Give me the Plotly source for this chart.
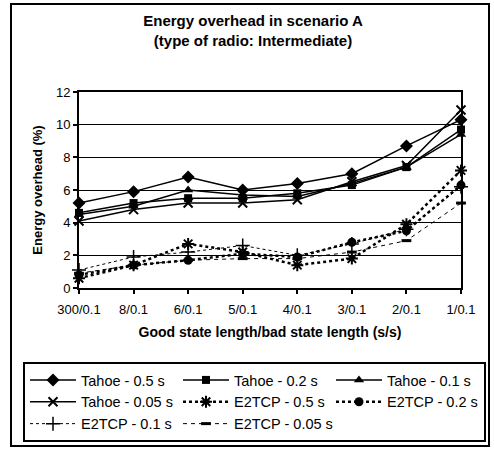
import plotly.graph_objects as go

categories = ["300/0.1", "8/0.1", "6/0.1", "5/0.1", "4/0.1", "3/0.1", "2/0.1", "1/0.1"]

tahoe_05 = [5.2, 5.9, 6.8, 6.0, 6.4, 7.0, 8.7, 10.3]
tahoe_02 = [4.6, 5.2, 5.5, 5.5, 5.8, 6.3, 7.4, 9.7]
tahoe_01 = [4.5, 5.0, 6.0, 5.7, 5.6, 6.4, 7.4, 9.4]
tahoe_005 = [4.1, 4.8, 5.2, 5.2, 5.4, 6.5, 7.5, 10.9]
e2tcp_05 = [0.6, 1.4, 2.7, 2.2, 1.4, 1.8, 3.9, 7.2]
e2tcp_02 = [0.8, 1.4, 1.7, 2.1, 1.9, 2.8, 3.5, 6.3]
e2tcp_01 = [1.1, 1.9, 2.2, 2.6, 2.0, 2.7, 3.6, 6.2]
e2tcp_005 = [0.9, 1.4, 1.7, 1.8, 1.8, 2.2, 2.9, 5.2]

series = [
    ("Tahoe - 0.5 s", tahoe_05, dict(dash="solid", width=1.5), dict(symbol="diamond", size=10)),
    ("Tahoe - 0.2 s", tahoe_02, dict(dash="solid", width=1.5), dict(symbol="square", size=8)),
    ("Tahoe - 0.1 s", tahoe_01, dict(dash="solid", width=1.5), dict(symbol="triangle-up", size=9)),
    ("Tahoe - 0.05 s", tahoe_005, dict(dash="solid", width=1.5), dict(symbol="x-thin-open", size=9, line=dict(width=2, color="black"))),
    ("E2TCP - 0.5 s", e2tcp_05, dict(dash="3px,3px", width=2.5), dict(symbol="asterisk-open", size=10, line=dict(width=2, color="black"))),
    ("E2TCP - 0.2 s", e2tcp_02, dict(dash="3px,3px", width=2.5), dict(symbol="circle", size=9)),
    ("E2TCP - 0.1 s", e2tcp_01, dict(dash="3px,3px", width=1), dict(symbol="cross-thin-open", size=10, line=dict(width=1.5, color="black"))),
    ("E2TCP - 0.05 s", e2tcp_005, dict(dash="4px,4px", width=1), dict(symbol="line-ew-open", size=7, line=dict(width=3, color="black"))),
]

fig = go.Figure()
xs = list(range(len(categories)))
for name, vals, line, marker in series:
    fig.add_trace(go.Scatter(
        x=xs, y=vals, name=name, mode="lines+markers",
        line=dict(color="black", **line),
        marker=dict(color="black", **marker),
        cliponaxis=False,
    ))

ml, mr, mt, mb = 79, 33, 92, 161
W, H = 494, 449
pw, ph = W - ml - mr, H - mt - mb

def px_x(p):
    return (p - ml) / pw

def px_y(p):
    return (H - mb - p) / ph

fig.update_layout(
    width=W, height=H,
    margin=dict(l=ml, r=mr, t=mt, b=mb, autoexpand=False),
    paper_bgcolor="white", plot_bgcolor="white",
    font=dict(family="Liberation Sans, Arial, sans-serif", color="black", size=13),
    title=dict(
        text="<b>Energy overhead in scenario A<br>(type of radio: Intermediate)</b>",
        x=253 / W, xanchor="center", xref="container",
        y=1 - 26 / H, yanchor="top", yref="container",
        font=dict(size=15),
    ),
    xaxis=dict(
        range=[0, 7], tickvals=xs, ticktext=categories,
        showgrid=False, zeroline=False, automargin=False,
        showline=True, linecolor="black", linewidth=2, mirror=True,
        ticks="outside", ticklen=4, tickcolor="black", tickwidth=1.5,
        tickfont=dict(size=13), ticklabelstandoff=4,
        title=dict(text="<b>Good state length/bad state length (s/s)</b>", font=dict(size=14), standoff=12),
    ),
    yaxis=dict(
        range=[0, 12], dtick=2, tick0=0,
        showgrid=True, gridcolor="black", gridwidth=1,
        zeroline=False, automargin=False,
        showline=True, linecolor="black", linewidth=2, mirror=True,
        ticks="outside", ticklen=4, tickcolor="black", tickwidth=1.5,
        tickfont=dict(size=13),
        title=dict(text="<b>Energy overhead (%)</b>", font=dict(size=13), standoff=10),
    ),
    showlegend=True,
    legend=dict(
        orientation="h",
        x=px_x(23), y=px_y(362), xanchor="left", yanchor="top",
        xref="paper", yref="paper",
        bordercolor="black", borderwidth=2,
        bgcolor="white",
        font=dict(size=14.5),
        itemwidth=46,
        entrywidth=92, entrywidthmode="pixels",
        tracegroupgap=0,
        traceorder="normal",
    ),
    shapes=[dict(
        type="rect", xref="paper", yref="paper",
        x0=px_x(11), x1=px_x(489), y0=px_y(446), y1=px_y(4),
        line=dict(color="black", width=2), fillcolor="rgba(0,0,0,0)", layer="below",
    )],
)

fig.write_html("out.html")
